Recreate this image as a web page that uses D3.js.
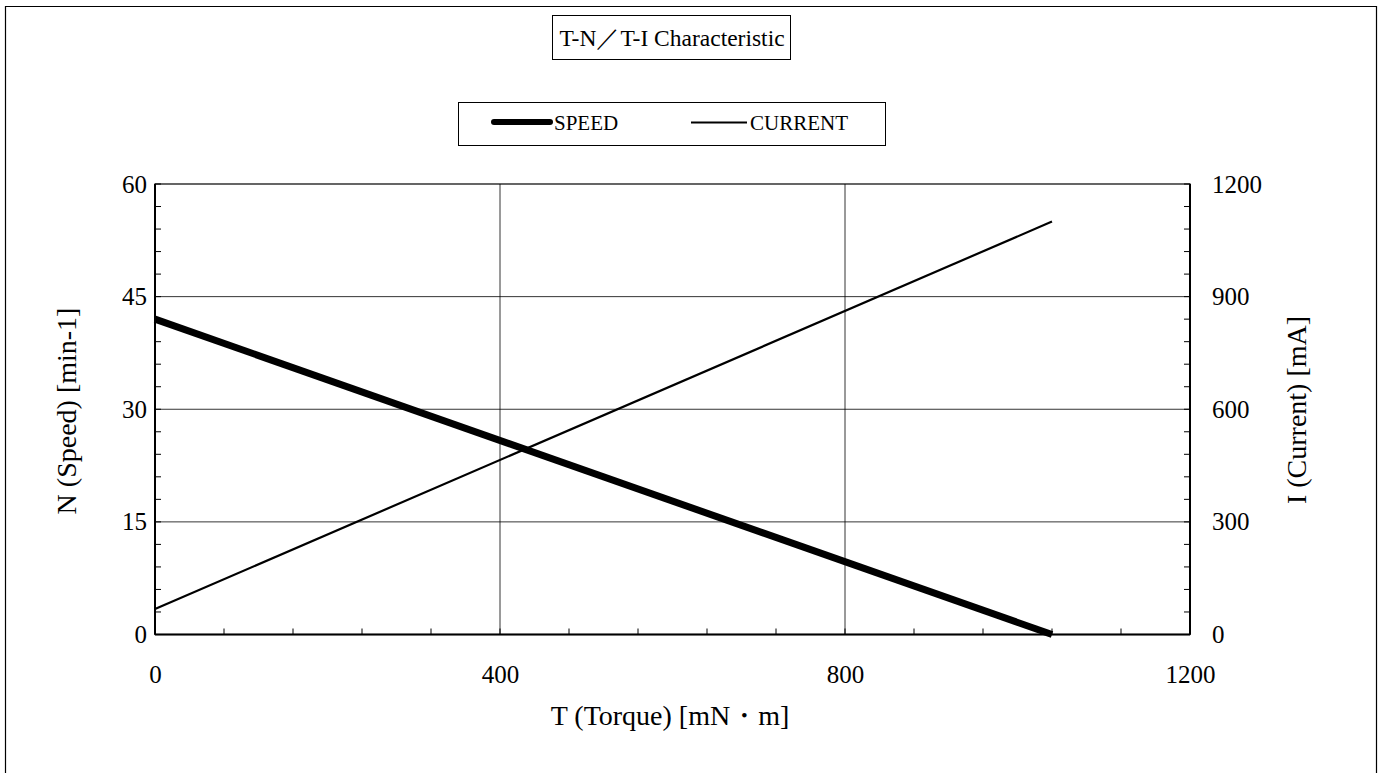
<!DOCTYPE html>
<html><head><meta charset="utf-8">
<script src="https://cdn.jsdelivr.net/npm/d3@7"></script>
<style>body{margin:0;background:#fff}svg{display:block}text{font-family:"Liberation Serif","Times New Roman",serif;fill:#000}</style>
</head><body>
<svg id="c" width="1381" height="773"></svg>
<script>
const torque = [0, 1040];
const speed = [42, 0];
const currentTorque = [0, 1040];
const current = [68, 1100];
const xTicks = [0, 400, 800, 1200];
const yLeftTicks = [0, 15, 30, 45, 60];
const yRightTicks = [0, 300, 600, 900, 1200];
const legendLabels = ["SPEED", "CURRENT"];

const svg = d3.select("#c");
const L = 155, R = 1190, T = 184, B = 634.5;
const x = d3.scaleLinear().domain([0, 1200]).range([L, R]);
const yL = d3.scaleLinear().domain([0, 60]).range([B, T]);
const yR = d3.scaleLinear().domain([0, 1200]).range([B, T]);

// outer border
svg.append("path").attr("d", `M5.5,780 V6.5 H1376.5 V780`).attr("fill","none").attr("stroke","#000").attr("stroke-width",1.2);

// title box
svg.append("rect").attr("x",552.5).attr("y",15.5).attr("width",238).attr("height",44).attr("fill","#fff").attr("stroke","#000").attr("stroke-width",1);
svg.append("text").attr("x",672).attr("y",46).attr("text-anchor","middle").attr("font-size",23.5).text("T-N／T-I Characteristic");

// legend box
svg.append("rect").attr("x",458.5).attr("y",102.5).attr("width",427).attr("height",43).attr("fill","#fff").attr("stroke","#000").attr("stroke-width",1);
svg.append("line").attr("x1",494).attr("x2",550).attr("y1",122).attr("y2",122).attr("stroke","#000").attr("stroke-width",6).attr("stroke-linecap","round");
svg.append("text").attr("x",554).attr("y",130).attr("font-size",21).text(legendLabels[0]);
svg.append("line").attr("x1",691).attr("x2",747).attr("y1",122.5).attr("y2",122.5).attr("stroke","#000").attr("stroke-width",2);
svg.append("text").attr("x",750).attr("y",130).attr("font-size",21).text(legendLabels[1]);

// gridlines
const g = svg.append("g");
xTicks.slice(1,-1).forEach(v=>g.append("line").attr("x1",x(v)).attr("x2",x(v)).attr("y1",T).attr("y2",B).attr("stroke","#000").attr("stroke-width",0.8));
yLeftTicks.slice(1,-1).forEach(v=>g.append("line").attr("x1",L).attr("x2",R).attr("y1",yL(v)).attr("y2",yL(v)).attr("stroke","#000").attr("stroke-width",0.8));

// minor ticks
const minorX = d3.range(0, 1201, 80);
minorX.forEach(v=>svg.append("line").attr("x1",x(v)).attr("x2",x(v)).attr("y1",B).attr("y2",B-6).attr("stroke","#000").attr("stroke-width",1));
const minorY = d3.range(0, 61, 3);
minorY.forEach(v=>{
  svg.append("line").attr("x1",L).attr("x2",L+6).attr("y1",yL(v)).attr("y2",yL(v)).attr("stroke","#000").attr("stroke-width",1);
  svg.append("line").attr("x1",R).attr("x2",R-6).attr("y1",yL(v)).attr("y2",yL(v)).attr("stroke","#000").attr("stroke-width",1);
});

// plot frame
svg.append("rect").attr("x",L).attr("y",T).attr("width",R-L).attr("height",B-T).attr("fill","none").attr("stroke","#000").attr("stroke-width",1.2);
svg.append("line").attr("x1",L).attr("x2",L).attr("y1",T).attr("y2",B).attr("stroke","#000").attr("stroke-width",2);
svg.append("line").attr("x1",R).attr("x2",R).attr("y1",T).attr("y2",B).attr("stroke","#000").attr("stroke-width",2);
svg.append("line").attr("x1",L).attr("x2",R).attr("y1",B).attr("y2",B).attr("stroke","#000").attr("stroke-width",2);

// axes labels via d3 axes (no lines)
const ax = svg.append("g").attr("transform",`translate(0,${B})`).call(d3.axisBottom(x).tickValues(xTicks).tickSize(0).tickPadding(43).tickFormat(d3.format("d")));
const ayl = svg.append("g").attr("transform",`translate(${L},0)`).call(d3.axisLeft(yL).tickValues(yLeftTicks).tickSize(0).tickPadding(8).tickFormat(d3.format("d")));
const ayr = svg.append("g").attr("transform",`translate(${R},0)`).call(d3.axisRight(yR).tickValues(yRightTicks).tickSize(0).tickPadding(22).tickFormat(d3.format("d")));
[ax,ayl,ayr].forEach(a=>{a.select(".domain").remove();a.selectAll("text").attr("font-size",25).attr("font-family","Liberation Serif, serif").attr("fill","#000");});
ax.selectAll("text").attr("dy","0.2em");

// axis titles
svg.append("text").attr("x",670).attr("y",725).attr("text-anchor","middle").attr("font-size",28).text("T (Torque) [mN・m]");
svg.append("text").attr("transform",`translate(76,411) rotate(-90)`).attr("text-anchor","middle").attr("font-size",28).text("N (Speed) [min-1]");
svg.append("text").attr("transform",`translate(1306,410) rotate(-90)`).attr("text-anchor","middle").attr("font-size",28).text("I (Current) [mA]");

// lines
const lineS = d3.line().x((d,i)=>x(torque[i])).y(d=>yL(d));
svg.append("path").datum(speed).attr("d",lineS).attr("fill","none").attr("stroke","#000").attr("stroke-width",7);
const lineC = d3.line().x((d,i)=>x(currentTorque[i])).y(d=>yR(d));
svg.append("path").datum(current).attr("d",lineC).attr("fill","none").attr("stroke","#000").attr("stroke-width",2.2);
</script>
</body></html>
